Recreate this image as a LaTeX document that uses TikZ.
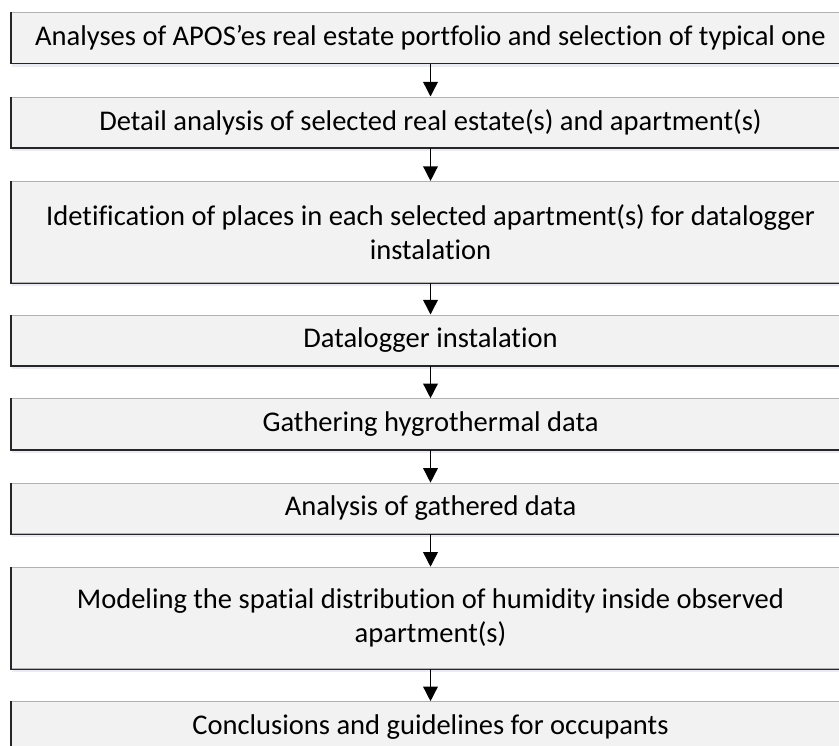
\documentclass[tikz,border=0pt]{standalone}
\usepackage{fontspec}
\setmainfont{Carlito}[Ligatures=NoCommon]
\usetikzlibrary{arrows.meta,shadows}
\tikzset{
	stepbox/.style={draw=black!30, line width=0.8pt, fill=black!5, minimum width=628.5pt, minimum height=37.9pt, inner sep=0pt, align=center, font=\fontsize{21.4}{25.5}\selectfont, drop shadow={shadow xshift=0pt, shadow yshift=-2.5pt, fill=blue!25!gray!25, opacity=0.5}},
	tallbox/.style={stepbox, minimum height=76.1pt},
	darkedge/.style={line width=1.1pt, color=black!85},
	flow/.style={line width=1.1pt, -{Triangle[width=11pt,length=11pt]}}
}

\begin{document}
\begin{tikzpicture}[x=0.75pt, y=-0.75pt]
	%%%%% START %%%%%
	
	\path[use as bounding box] (0, 0) rectangle (839, 746);
	\clip (0, 0) rectangle (839, 746);
	
	\node[stepbox] (b1) at (430.5, 37.9) {Analyses of APOS’es real estate portfolio and selection of typical one};
	\node[stepbox] (b2) at (430.5, 122.3) {Detail analysis of selected real estate(s) and apartment(s)};
	\node[tallbox] (b3) at (430.5, 232.2) {Idetification of places in each selected apartment(s) for datalogger\\ instalation};
	\node[stepbox] (b4) at (430.5, 340.3) {Datalogger instalation};
	\node[stepbox] (b5) at (430.5, 424) {Gathering hygrothermal data};
	\node[stepbox] (b6) at (430.5, 508.5) {Analysis of gathered data};
	\node[tallbox] (b7) at (430.5, 618) {Modeling the spatial distribution of humidity inside observed\\ apartment(s)};
	\node[stepbox] (b8) at (430.5, 727) {Conclusions and guidelines for occupants};
	
	% darker left and bottom edges
	\foreach \b in {b1,b2,b3,b4,b5,b6,b7,b8}
		\draw[darkedge] (\b.north west) -- (\b.south west) -- (\b.south east);
	
	\draw[flow] (b1.south) -- (b2.north);
	\draw[flow] (b2.south) -- (b3.north);
	\draw[flow] (b3.south) -- (b4.north);
	\draw[flow] (b4.south) -- (b5.north);
	\draw[flow] (b5.south) -- (b6.north);
	\draw[flow] (b6.south) -- (b7.north);
	\draw[flow] (b7.south) -- (b8.north);
	
	%%%%% END %%%%%
\end{tikzpicture}
\end{document}
